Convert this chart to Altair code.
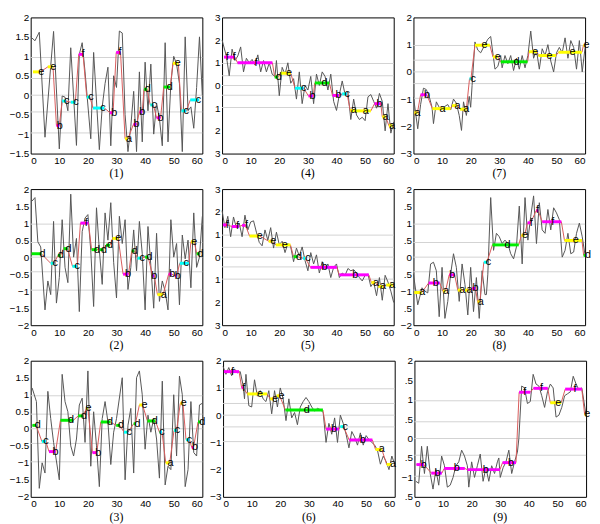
import altair as alt
import pandas as pd

BREAKPOINTS = [-0.97, -0.43, 0.0, 0.43, 0.97]
LETTERS = ["a", "b", "c", "d", "e", "f"]
LETTER_COLORS = ["#ffff00", "#ff00ff", "#00ffff", "#00ee00", "#ffff00", "#ff00ff"]
X_TICKS = [0, 10, 20, 30, 40, 50, 60]

# ---------------- panel (1) ----------------
P1_X = [0, 1.5, 3, 5, 7, 8, 10, 11, 12, 13, 14, 16, 17, 18, 19, 21, 22, 24, 25, 26, 27, 28, 29, 30, 31, 32,
        33, 34, 35, 36, 37, 38, 39, 40, 41, 42, 43, 44, 45, 46, 47, 48, 49, 50, 51, 52, 53, 54, 55, 56, 57, 58, 59, 60]
P1_Y = [1.5, 1.4, 1.62, -1.08, 0.75, 1.64, -1.38, -0.02, -0.05, -0.4, 1.22, -1.29, 1.05, 1.35, 0.6, -1.12, 1.1,
        -1.4, -0.3, 0.3, 0.72, -1.3, 0.5, 0.2, 1.65, 1.6, -0.5, -1.45, -0.8, 0.1, -1.45, 0.6, -1.2, 0.85, -0.4,
        0.8, -1.0, -0.2, -0.6, -1.3, 1.35, -1.2, 0.3, 1.0, 0.8, 0.3, -1.45, 1.5, -0.4, -0.3, -0.85, 0.2, 1.5, 0.0]
P1_SEG = [(0.8, 3.4, 0.6, "e", 3.7), (6.0, 7.8, 0.73, "e", 7.9), (9.0, 10.0, -0.78, "b", 10.2),
          (11.0, 12.3, -0.15, "c", 12.6), (14.0, 15.6, -0.18, "c", 15.8), (16.8, 18.3, 1.05, "f", 18.3),
          (19.6, 20.7, -0.05, "c", 21.1), (21.8, 25.8, -0.33, "c", 25.3), (27.7, 28.8, -0.45, "b", 29.2),
          (29.9, 31.4, 1.1, "f", 31.2), (33.0, 34.0, -1.12, "a", 34.4), (35.9, 37.0, -0.75, "b", 37.0),
          (38.0, 39.0, -0.43, "b", 39.0), (39.6, 40.7, 0.15, "d", 40.9), (41.8, 42.9, -0.25, "c", 43.2),
          (44.0, 45.4, -0.58, "b", 45.4), (46.5, 48.8, 0.21, "d", 48.6), (49.7, 51.6, 0.82, "e", 51.4),
          (52.7, 54.4, -0.4, "c", 54.4), (55.8, 58.9, -0.12, "c", 58.6)]

# ---------------- panel (2) ----------------
P2_X = [0.5, 1.5, 2.5, 3.5, 5, 6, 7, 8, 9, 10, 11, 12, 13, 14, 15, 16, 17, 18, 19, 20, 21, 22, 23, 24, 25, 26,
        27, 28, 29, 30, 31, 32, 33, 34, 35, 36, 37, 38, 39, 40, 41, 42, 43, 44, 45, 46, 47, 48, 49, 50, 51, 52,
        53, 54, 55, 56, 57, 58, 59, 60]
P2_Y = [1.65, 1.75, 0.45, 0.3, -1.55, -0.7, -1.1, 1.05, -1.35, -0.6, 1.1, -0.3, -0.75, 1.85, 0.0, 0.55, -1.6,
        0.75, 1.15, 1.25, 0.2, -1.45, 1.45, 0.2, -0.8, 1.3, 0.5, 1.6, -0.15, -1.2, 1.2, 0.4, 1.1, -0.95, -0.3,
        0.8, -0.4, 1.05, 0.1, -1.55, 0.9, -0.25, -1.5, 0.7, -1.3, -0.7, -1.0, -1.55, 1.1, 0.0, 0.4, -1.4, 0.65,
        -0.05, 0.5, -0.9, 1.3, -0.3, 0.0, 1.2]
P2_SEG = [(0.3, 3.7, 0.1, "d", 4.1), (7.0, 8.2, -0.18, "c", 8.6), (9.5, 10.4, 0.05, "d", 10.6),
          (11.5, 12.9, 0.25, "d", 13.2), (14.6, 16.3, -0.27, "c", 16.3), (17.4, 20.2, 1.0, "f", 19.4),
          (21.3, 23.2, 0.22, "d", 23.2), (24.1, 25.4, 0.22, "d", 25.6), (26.3, 27.7, 0.35, "d", 27.7),
          (28.6, 30.6, 0.55, "e", 30.6), (32.3, 34.2, -0.5, "b", 34.0), (35.3, 36.2, 0.18, "d", 36.4),
          (37.3, 38.7, -0.03, "c", 39.0), (40.0, 41.1, 0.0, "d", 41.5), (42.6, 43.2, -0.55, "b", 43.2),
          (44.3, 46.3, -1.1, "a", 46.5), (48.2, 49.3, -0.5, "b", 49.5), (50.4, 51.0, -0.55, "b", 51.4),
          (52.1, 55.3, -0.18, "c", 54.4), (56.0, 57.2, 0.45, "e", 57.2), (58.0, 59.0, 0.1, "d", 59.4)]

# ---------------- panel (3) ----------------
P3_X = [0.5, 2, 3, 4, 5, 6, 7, 8, 10, 11, 12, 13, 14, 15, 16, 17, 18, 19, 20, 21, 22, 23, 24, 25, 26, 27, 28,
        29, 30, 32, 33, 34, 35, 36, 37, 38, 39, 40, 41, 42, 43, 44, 45, 46, 47, 48, 49, 50, 51, 52, 53, 54, 55,
        56, 57, 58, 59, 60]
P3_Y = [1.2, 0.8, -1.75, -1.0, -1.3, 1.1, 0.3, -0.4, -1.5, 1.6, 0.8, 0.5, -0.5, -0.8, -0.3, 0.7, 0.9, -0.4,
        1.7, -1.1, 0.5, -0.5, -1.7, 0.3, 0.8, 0.2, -1.05, -0.1, 0.3, 1.5, -1.5, 0.1, 0.6, -1.3, 1.5, 1.7, 1.0,
        -0.6, 0.4, -0.1, 0.3, -0.3, -1.45, 1.4, -1.65, -1.1, -1.2, 1.0, -0.8, 1.55, 1.0, -1.7, -1.2, 0.8, -0.7,
        -0.8, 0.7, 0.75]
P3_SEG = [(0.6, 1.9, 0.1, "d", 2.5), (3.9, 5.3, -0.37, "c", 5.3), (6.4, 8.7, -0.67, "b", 8.7),
          (10.4, 14.9, 0.25, "d", 14.1), (16.6, 18.3, 0.38, "d", 18.6), (19.5, 20.0, 0.6, "e", 20.2),
          (21.6, 23.1, -0.7, "b", 23.6), (24.5, 27.9, 0.2, "d", 27.7), (29.9, 31.2, 0.1, "d", 31.6),
          (32.6, 34.0, -0.1, "c", 34.4), (36.0, 36.6, 0.15, "d", 37.3), (38.0, 39.1, 0.7, "e", 39.8),
          (40.8, 43.6, 0.23, "d", 43.4), (45.0, 45.9, -0.1, "c", 45.9), (47.2, 48.6, -1.0, "a", 48.9),
          (50.1, 51.0, -0.05, "c", 51.3), (52.3, 53.2, 0.75, "e", 53.5), (54.3, 55.5, -0.32, "c", 55.5),
          (56.3, 56.9, -0.55, "b", 57.4), (58.5, 59.4, 0.2, "d", 60.0)]

# ---------------- panel (4) ----------------
P4_X = [0, 1.5, 2.5, 3.5, 4.5, 5.5, 6.5, 7.5, 8.5, 9.5, 10.5, 11.5, 12.5, 13.5, 14.5, 15.5, 16.5, 17.5, 18.5,
        19, 20, 21, 22, 23, 24, 25, 26, 27, 28, 29, 30, 31, 32, 33, 34, 35, 36, 37, 38, 39, 40, 41, 42, 43, 44,
        45, 46, 47, 48, 49, 50, 51, 52, 53, 54, 55, 56, 57, 58, 59, 60]
P4_Y = [2.0, 1.3, 0.43, 1.6, 1.1, 1.3, 1.7, 0.6, 1.2, 1.0, 1.15, 0.9, 1.35, 0.6, 1.1, 0.6, 1.0, 0.5, 0.4, 1.1,
        -0.45, 0.8, 0.5, 1.0, 0.1, 0.3, -0.6, 0.6, -0.8, 0.0, -0.2, 0.4, -0.8, 0.5, 0.0, 0.6, 0.4, -0.2, 0.5,
        -0.7, -1.1, -0.4, 0.2, -0.4, -0.3, -1.5, -0.6, -1.3, -1.5, -1.4, -1.55, -0.5, -0.4, -0.7, -1.0, -0.35,
        -0.7, -2.0, -0.8, -2.1, -1.6]
P4_SEG = [(0.7, 2.5, 1.25, "f", 1.8), (2.5, 4.5, 1.25, "f", 4.3), (5.4, 17.6, 1.0, "f", 11.9),
          (18.4, 19.5, 0.37, "d", 19.8), (20.4, 24.0, 0.54, "e", 23.4), (25.5, 28.5, -0.12, "c", 28.5),
          (30.2, 31.9, -0.46, "b", 31.6), (32.4, 37.5, 0.11, "d", 35.8), (38.6, 40.9, -0.44, "b", 40.7),
          (42.0, 43.7, -0.37, "c", 43.7), (44.8, 46.5, -1.1, "a", 46.0), (46.5, 52.0, -1.12, "a", 50.2),
          (53.3, 55.5, -0.8, "b", 55.0), (56.0, 57.2, -1.38, "a", 57.2), (58.3, 59.5, -1.77, "a", 59.5)]

# ---------------- panel (5) ----------------
P5_X = [0, 1, 2, 3, 4, 5, 6, 7, 8, 9, 10, 11, 12, 13, 14, 15, 16, 17, 18, 19, 20, 21, 22, 23, 24, 25, 26, 27,
        28, 29, 30, 31, 32, 33, 34, 35, 36, 37, 38, 39, 40, 41, 42, 43, 44, 45, 46, 47, 48, 49, 50, 51, 52, 53,
        54, 55, 56, 57, 58, 59, 60]
P5_Y = [2.05, 1.3, 1.8, 0.9, 1.77, 1.3, 1.5, 0.9, 1.85, 1.2, 1.55, 1.6, 1.1, 0.65, 0.5, 1.2, 0.75, 1.3, 0.4,
        1.1, 0.55, 0.7, 0.2, 0.6, 0.45, -0.2, 0.4, 0.05, 0.45, -0.15, -0.6, 0.2, -0.3, 0.1, -0.7, -0.2, -0.5,
        -0.3, -0.9, -0.45, -0.3, -0.9, -0.7, -0.8, -0.5, -0.6, -0.55, -0.7, -0.9, -1.05, -0.8, -0.75, -1.3,
        -1.1, -1.7, -0.9, -1.9, -0.8, -1.1, -1.5, -2.0]
P5_SEG = [(0.3, 1.8, 1.42, "f", 1.8), (3.4, 5.9, 1.35, "f", 5.4), (7.0, 8.2, 1.4, "f", 8.5),
          (9.6, 13.2, 0.93, "e", 13.2), (16.3, 17.7, 0.7, "e", 17.9), (18.8, 23.9, 0.54, "e", 21.9),
          (25.0, 26.4, 0.02, "d", 26.9), (28.3, 29.1, -0.05, "c", 30.0), (30.9, 40.1, -0.45, "b", 35.8),
          (41.0, 51.3, -0.78, "b", 46.6), (52.2, 53.5, -1.12, "a", 53.8), (54.6, 56.3, -1.29, "a", 56.3),
          (57.4, 59.7, -1.23, "a", 59.5)]

# ---------------- panel (6) ----------------
P6_X = [0, 1, 2, 3, 4, 5, 6, 7, 7.5, 8, 9, 10, 11, 12, 13, 14, 15, 16, 17, 18, 19, 20, 21, 22, 23, 24, 25, 26,
        27, 28, 29, 30, 31, 32, 33, 34, 35, 36, 37, 38, 39, 40, 41, 42, 43, 44, 45, 46, 47, 48, 49, 50, 51, 52,
        53, 54, 55, 56, 57, 58, 59, 60]
P6_Y = [1.79, 1.5, 1.75, 1.45, 1.7, 1.55, 1.6, 1.1, 0.6, 1.5, 0.35, 0.3, 1.3, 0.7, 0.9, 0.6, 0.5, 0.9, 0.05,
        0.9, 0.3, 1.0, 0.6, -0.2, 0.6, -0.1, 0.1, -0.35, 0.3, 0.5, 0.65, 0.5, 0.3, 0.15, 0.25, 0.2, 0.1, -1.0,
        -0.3, -0.7, -0.1, -1.0, 0.0, -0.3, -0.7, -1.2, -0.6, -0.8, -1.1, -0.65, -1.1, -0.75, -0.9, -1.0, -1.1,
        -1.3, -1.8, -1.5, -1.7, -2.0, -1.5, -1.8]
P6_SEG = [(0.3, 5.6, 1.6, "f", 3.3), (6.5, 7.0, 1.01, "f", 7.2), (8.5, 15.4, 0.78, "e", 12.9),
          (16.5, 17.6, 0.6, "e", 18.2), (18.7, 19.8, 0.71, "e", 20.4), (21.8, 34.9, 0.19, "d", 29.3),
          (36.0, 40.5, -0.51, "b", 38.8), (41.0, 42.1, -0.42, "c", 42.7), (44.1, 52.2, -0.91, "b", 48.8),
          (53.3, 55.5, -1.26, "a", 55.5), (57.2, 58.9, -1.81, "a", 59.4)]

# ---------------- panel (7) ----------------
P7_X = [0, 1.5, 2.5, 3.5, 4.5, 5.5, 6.5, 7, 8, 9.5, 10.5, 12, 13, 14, 15, 16, 16.8, 17.5, 18.5, 19.5, 20,
        20.5, 21.5, 22.5, 23.5, 24.5, 26, 27, 28, 28.5, 29.5, 30.5, 31, 32, 33, 34, 35, 36, 37, 38, 39, 40, 41,
        42, 43, 44, 45, 46, 47, 48, 49, 50, 51, 52, 53, 54, 55, 56, 57, 58, 59, 60]
P7_Y = [-0.92, -2.09, -1.2, -0.6, -0.65, -0.9, -1.3, -1.9, -1.1, -1.4, -1.3, -1.2, -1.4, -1.0, -1.15, -1.6,
        -2.15, -1.1, -1.6, -0.9, -1.3, -0.5, 1.1, 0.8, 0.7, 0.9, 1.2, 1.3, 0.5, 0.1, 0.2, 0.6, 0.15, 0.6, 0.3,
        0.6, 0.05, 0.5, 0.1, 0.6, 0.15, 0.6, 1.5, 0.5, 0.8, 0.1, 0.85, 0.6, 1.0, 0.4, 0.0, 0.7, 0.9, 0.7, 1.25,
        0.5, 1.15, 0.9, 0.1, 1.15, 0.0, 0.9]
P7_SEG = [(0.3, 1.4, -1.5, "a", 1.4), (2.5, 4.7, -0.84, "b", 4.7), (6.6, 13.0, -1.35, "a", 10.2),
          (13.5, 15.2, -1.24, "a", 15.4), (16.3, 18.5, -1.37, "a", 18.5), (19.6, 20.1, -0.25, "c", 20.9),
          (21.5, 26.7, 0.98, "e", 24.8), (27.8, 29.5, 0.55, "e", 29.5), (30.5, 39.9, 0.37, "d", 36.0),
          (40.4, 43.2, 0.74, "e", 42.6), (43.7, 49.8, 0.6, "e", 47.6), (50.7, 58.9, 0.72, "e", 55.6),
          (59.4, 60.0, 0.97, "e", 60.5)]

# ---------------- panel (8) ----------------
P8_X = [0, 1.5, 3, 4, 5, 6, 7, 8, 9, 10, 11, 12, 13, 14, 15, 16, 17, 18, 19, 20, 21, 22, 23, 24, 25, 25.5, 26,
        27, 28, 29, 30, 31, 32, 33, 34, 35, 36, 37, 38, 39, 40, 41, 42, 43, 44, 45, 46, 47, 48, 49, 50, 51, 52,
        53, 54, 55, 56, 57, 58, 59, 60]
P8_Y = [-0.5, -1.4, -0.9, -1.0, -1.05, -0.2, -0.15, -0.4, -1.75, -0.3, -1.8, -1.3, -0.5, 0.1, -0.3, -1.3, -0.2,
        -0.8, -1.7, -0.3, -1.6, -0.6, -1.8, -0.4, -1.1, -1.1, -0.5, 1.75, 0.2, 0.7, 0.6, 0.4, 0.5, 0.4, 0.1,
        -0.05, 0.3, 1.5, -0.2, 1.75, 0.5, 1.2, 1.8, 0.4, 1.6, 0.8, 0.7, 1.4, 0.8, 1.45, 1.3, 1.1, 0.0, 0.2, 0.7,
        0.1, 0.15, 0.7, 1.0, 0.6, 0.05]
P8_SEG = [(0.3, 2.9, -1.04, "a", 3.1), (5.3, 9.2, -0.76, "b", 7.8), (10.3, 11.2, -1.0, "a", 11.4),
          (12.5, 14.4, -0.52, "b", 13.6), (15.5, 16.9, -0.97, "a", 17.1), (18.0, 19.3, -0.97, "a", 19.6),
          (20.5, 21.7, -0.92, "b", 21.7), (22.4, 23.2, -1.31, "a", 23.5), (24.6, 25.7, -0.15, "c", 26.2),
          (27.6, 36.8, 0.36, "d", 32.9), (37.7, 38.8, 0.64, "e", 39.0), (39.9, 41.0, 1.01, "f", 41.2),
          (42.9, 43.6, 1.37, "f", 43.4), (45.0, 51.7, 1.04, "f", 48.7), (52.8, 58.9, 0.49, "e", 56.7),
          (59.5, 60.0, 0.05, "d", 61.0)]

# ---------------- panel (9) ----------------
P9_X = [0.5, 1.5, 2.5, 3.5, 4.5, 5.5, 6.5, 7.5, 8.5, 9.5, 10.5, 11.5, 12.5, 13.5, 14.5, 15.5, 16.5, 17.5,
        18.5, 19, 20, 21, 22, 23, 24, 25, 26, 27, 28, 29, 29.5, 30, 31, 32, 33, 34, 35, 36, 36.5, 37.5, 38.5,
        39.5, 40.5, 41.5, 42.5, 43.5, 44.5, 45.5, 46.5, 47.5, 48.5, 49.5, 50.5, 51.5, 52.5, 53.5, 54.5, 55.5,
        56.5, 57.5, 58.5, 60]
P9_Y = [-1.1, -1.15, -0.2, -0.9, -0.2, -0.9, -1.3, -0.8, -1.2, -0.45, -0.7, -1.25, -1.2, -1.0, -0.7, -0.6,
        -0.3, -0.45, -0.7, -1.25, -0.6, -1.0, -0.7, -0.4, -1.1, -0.75, -1.1, -0.7, -0.9, -0.6, -0.5, -1.0,
        -0.75, -0.6, -0.3, -0.9, -0.6, -0.35, 0.0, 1.35, 1.3, 0.9, 0.95, 1.65, 1.4, 1.35, 1.1, 0.8, 1.2, 1.4,
        1.3, 0.55, 0.6, 0.8, 1.1, 1.15, 1.2, 1.6, 1.4, 1.25, 1.3, 0.6]
P9_SEG = [(0.7, 3.3, -0.67, "b", 3.3), (5.9, 9.6, -0.89, "b", 8.1), (10.4, 17.6, -0.77, "b", 14.8),
          (18.5, 29.9, -0.8, "b", 24.9), (30.8, 35.5, -0.62, "b", 33.8), (36.6, 40.5, 1.19, "f", 38.6),
          (41.6, 46.6, 1.29, "f", 44.4), (47.5, 51.3, 0.92, "e", 50.3), (52.7, 58.5, 1.27, "f", 56.1),
          (59.5, 60.0, 0.62, "e", 60.4)]

T_HALF_15 = [-1.5, -1, -0.5, 0, 0.5, 1, 1.5, 2]
T_HALF_2 = [-2, -1.5, -1, -0.5, 0, 0.5, 1, 1.5, 2]
T_ONE_3 = [-3, -2, -1, 0, 1, 2, 3]
T_ONE_32 = [-3, -2, -1, 0, 1, 2]

ABS_EXPR = "format(abs(datum.value), 'd')"
CLIP_EXPR = "indexof(datum.label, '.') >= 0 ? slice(datum.label, indexof(datum.label, '.')) : datum.label"

PANELS = {
    1: (P1_X, P1_Y, P1_SEG, [-1.5, 2], T_HALF_15, None),
    2: (P2_X, P2_Y, P2_SEG, [-2, 2], T_HALF_2, None),
    3: (P3_X, P3_Y, P3_SEG, [-2, 2], T_HALF_2, None),
    4: (P4_X, P4_Y, P4_SEG, [-3, 3], T_ONE_3, ABS_EXPR),
    5: (P5_X, P5_Y, P5_SEG, [-3, 3], T_ONE_3, ABS_EXPR),
    6: (P6_X, P6_Y, P6_SEG, [-3, 2], T_ONE_32, None),
    7: (P7_X, P7_Y, P7_SEG, [-3, 2], T_ONE_32, None),
    8: (P8_X, P8_Y, P8_SEG, [-2, 2], T_HALF_2, CLIP_EXPR),
    9: (P9_X, P9_Y, P9_SEG, [-1.5, 2], T_HALF_15, CLIP_EXPR),
}

W, H = 174, 138


def panel(n):
    xs_, ys_, segs, dom, ticks, lexpr = PANELS[n]
    line_df = pd.DataFrame({"x": xs_, "y": ys_})
    seg_df = pd.DataFrame(segs, columns=["start", "end", "level", "letter", "lx"])
    conn_rows = []
    i = 0
    for s in segs:
        conn_rows.append({"x": s[0], "y": s[2], "i": i}); i += 1
        conn_rows.append({"x": s[1], "y": s[2], "i": i}); i += 1
    conn_df = pd.DataFrame(conn_rows)
    grid_df = pd.DataFrame({"y": BREAKPOINTS})

    xsc = alt.Scale(domain=[0, 60], nice=False)
    ysc = alt.Scale(domain=dom, nice=False)

    yaxis_kw = dict(values=ticks, title=None, format="~g", minExtent=16, maxExtent=16)
    if lexpr:
        yaxis_kw["labelExpr"] = lexpr
    yaxis = alt.Axis(**yaxis_kw)
    xaxis = alt.Axis(values=X_TICKS, title=None)

    grid = alt.Chart(grid_df).mark_rule(color="#d2d2d2", strokeWidth=1).encode(
        y=alt.Y("y:Q", scale=ysc, axis=yaxis))
    gray = alt.Chart(line_df).mark_line(color="#555555", strokeWidth=1).encode(
        x=alt.X("x:Q", scale=xsc, axis=xaxis),
        y=alt.Y("y:Q", scale=ysc, axis=yaxis))
    conn = alt.Chart(conn_df).mark_line(color="#d85a5a", strokeWidth=1).encode(
        x=alt.X("x:Q", scale=xsc, axis=xaxis),
        y=alt.Y("y:Q", scale=ysc, axis=yaxis),
        order="i:Q")
    seg = alt.Chart(seg_df).mark_rule(strokeWidth=3).encode(
        x=alt.X("start:Q", scale=xsc, axis=xaxis),
        x2="end:Q",
        y=alt.Y("level:Q", scale=ysc, axis=yaxis),
        color=alt.Color("letter:N", scale=alt.Scale(domain=LETTERS, range=LETTER_COLORS), legend=None))
    txt = alt.Chart(seg_df).mark_text(font="Liberation Sans", fontSize=11, color="black",
                                      baseline="middle", align="center").encode(
        x=alt.X("lx:Q", scale=xsc, axis=xaxis),
        y=alt.Y("level:Q", scale=ysc, axis=yaxis),
        text="letter:N")
    return alt.layer(grid, gray, conn, seg, txt).properties(
        width=W, height=H,
        title=alt.TitleParams(f"({n})", orient="bottom", font="Liberation Serif", fontSize=12,
                              fontWeight="normal", color="black", offset=3))


rows = [alt.hconcat(panel(r), panel(r + 3), panel(r + 6), spacing=0) for r in (1, 2, 3)]
chart = alt.vconcat(*rows, spacing=3).properties(
    padding={"left": 0, "top": 0, "right": 0, "bottom": 0}
).configure_view(
    stroke="black", strokeWidth=1
).configure_axis(
    labelFont="Liberation Sans", labelFontSize=10, labelColor="black",
    ticks=False, domain=False, grid=False, labelPadding=2
)

chart.save("out.html", embed_options={"renderer": "svg", "actions": False})
